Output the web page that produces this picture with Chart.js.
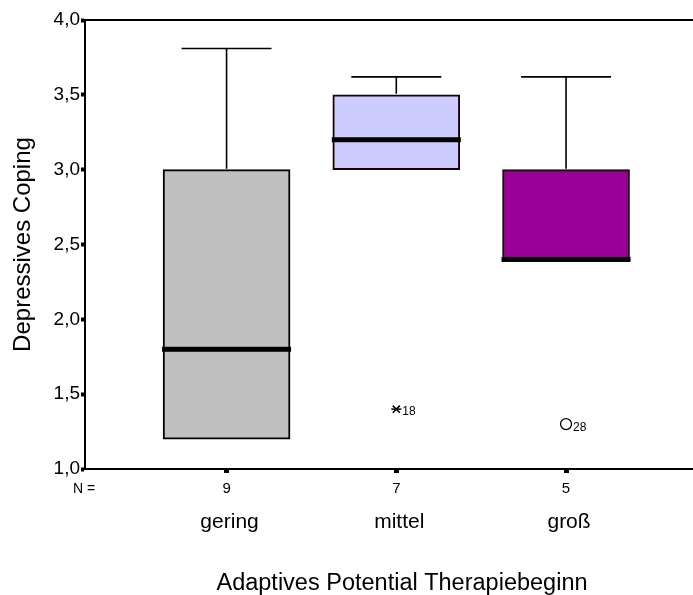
<!DOCTYPE html>
<html><head><meta charset="utf-8">
<script src="https://cdn.jsdelivr.net/npm/chart.js@4/dist/chart.umd.min.js"></script>
<style>html,body{margin:0;padding:0;background:#fff;overflow:hidden}canvas{display:block}</style>
</head><body><canvas id="c" width="693" height="595"></canvas>
<script>
// ---- data ----
const categories = ['gering', 'mittel', 'groß'];
const counts = ['9', '7', '5'];
const whiskerLow = [1.2, 3.0, 2.4];
const q1 = [1.2, 3.0, 2.4];
const medians = [1.8, 3.2, 2.4];
const q3 = [3.0, 3.5, 3.0];
const whiskerHigh = [3.81, 3.62, 3.62];
const extremeCats = [2];
const extremeValues = [1.4];
const extremeLabels = ['18'];
const outlierCats = [3];
const outlierValues = [1.3];
const outlierLabels = ['28'];
const yTitle = 'Depressives Coping';
const xTitle = 'Adaptives Potential Therapiebeginn';
const nLabel = 'N =';

// ---- styles ----
const boxColors = ['#c0c0c0', '#ccccff', '#990099'];
const boxBorders = ['#000000', '#1a0000', '#1a0000'];
const FONT = "'Liberation Sans', Arial, sans-serif";

const catX = categories.map((c, i) => i + 1);

const boxplotPlugin = {
  id: 'boxplot',
  afterDatasetsDraw(chart) {
    const { ctx, scales: { y } } = chart;
    const meta = chart.getDatasetMeta(0);
    ctx.save();
    meta.data.forEach((bar, i) => {
      const cx = bar.x, half = bar.width / 2;
      const capHalf = 45;
      ctx.strokeStyle = '#000';
      ctx.lineWidth = 1.6;
      const yq3 = y.getPixelForValue(q3[i]);
      const yhi = y.getPixelForValue(whiskerHigh[i]);
      if (whiskerHigh[i] > q3[i]) {
        ctx.beginPath();
        ctx.moveTo(cx, yq3 - 1); ctx.lineTo(cx, yhi);
        ctx.moveTo(cx - capHalf, yhi); ctx.lineTo(cx + capHalf, yhi);
        ctx.stroke();
      }
      const yq1 = y.getPixelForValue(q1[i]);
      const ylo = y.getPixelForValue(whiskerLow[i]);
      if (whiskerLow[i] < q1[i]) {
        ctx.beginPath();
        ctx.moveTo(cx, yq1 + 1); ctx.lineTo(cx, ylo);
        ctx.moveTo(cx - capHalf, ylo); ctx.lineTo(cx + capHalf, ylo);
        ctx.stroke();
      }
      const ym = y.getPixelForValue(medians[i]);
      ctx.fillStyle = '#000';
      ctx.fillRect(cx - half - 1, ym - 2.5, 2 * half + 2, 5);
    });
    ctx.restore();
  },
  afterDraw(chart) {
    const { ctx, chartArea, scales: { x } } = chart;
    ctx.save();
    ctx.strokeStyle = '#000';
    ctx.lineWidth = 2;
    ctx.beginPath();
    ctx.moveTo(chartArea.left - 1, chartArea.top);
    ctx.lineTo(chartArea.right, chartArea.top);
    ctx.stroke();
    ctx.fillStyle = '#000';
    ctx.textAlign = 'center';
    ctx.textBaseline = 'alphabetic';
    ctx.font = '14px ' + FONT;
    ctx.fillText(nLabel, chartArea.left - 1, 493);
    ctx.font = '21px ' + FONT;
    categories.forEach((c, i) => {
      ctx.fillText(c, x.getPixelForValue(catX[i]) + 3, 528);
    });
    ctx.font = '23.5px ' + FONT;
    ctx.fillText(xTitle, 402, 590);
    ctx.font = '12px ' + FONT;
    ctx.textAlign = 'left';
    ctx.textBaseline = 'middle';
    const m1 = chart.getDatasetMeta(1);
    m1.data.forEach((p, i) => ctx.fillText(extremeLabels[i], p.x + 6, p.y + 3));
    const m3 = chart.getDatasetMeta(3);
    m3.data.forEach((p, i) => ctx.fillText(outlierLabels[i], p.x + 7, p.y + 4));
    ctx.restore();
  }
};

new Chart(document.getElementById('c'), {
  type: 'bar',
  data: {
    datasets: [
      {
        type: 'bar',
        data: catX.map((cx, i) => ({ x: cx, y: [q1[i], q3[i]] })),
        backgroundColor: boxColors,
        borderColor: boxBorders,
        borderWidth: 2,
        borderSkipped: false,
        barThickness: 127
      },
      {
        type: 'scatter',
        data: extremeCats.map((c, i) => ({ x: c, y: extremeValues[i] })),
        pointStyle: 'crossRot',
        radius: 5,
        borderColor: '#000',
        borderWidth: 1.5
      },
      {
        type: 'scatter',
        data: extremeCats.map((c, i) => ({ x: c, y: extremeValues[i] })),
        pointStyle: 'line',
        radius: 5,
        borderColor: '#000',
        borderWidth: 1.5
      },
      {
        type: 'scatter',
        data: outlierCats.map((c, i) => ({ x: c, y: outlierValues[i] })),
        pointStyle: 'circle',
        radius: 5.5,
        backgroundColor: 'rgba(0,0,0,0)',
        borderColor: '#000',
        borderWidth: 1.3
      }
    ]
  },
  options: {
    responsive: false,
    animation: false,
    layout: { autoPadding: false, padding: { top: 20, right: 0, bottom: 0, left: 0 } },
    plugins: { legend: { display: false }, tooltip: { enabled: false } },
    scales: {
      x: {
        type: 'linear',
        offset: false,
        min: 0.166,
        max: 3.748,
        afterBuildTicks: (s) => { s.ticks = catX.map(v => ({ value: v })); },
        afterFit: (s) => { s.height = 126; s.paddingLeft = 0; s.paddingRight = 0; },
        ticks: {
          callback: (v, i) => counts[i],
          font: { size: 15, family: FONT },
          color: '#000',
          padding: 7,
          maxRotation: 0
        },
        grid: { offset: false, drawOnChartArea: false, drawTicks: true, tickLength: 4, tickWidth: 5, tickColor: '#000' },
        border: { display: true, color: '#000', width: 2 }
      },
      y: {
        min: 1,
        max: 4,
        afterFit: (s) => { s.width = 85; },
        ticks: {
          stepSize: 0.5,
          callback: (v) => v.toFixed(1).replace('.', ','),
          font: { size: 19, family: FONT },
          color: '#000',
          padding: 1
        },
        grid: { drawOnChartArea: false, drawTicks: true, tickLength: 4, tickWidth: 4, tickColor: '#000' },
        border: { display: true, color: '#000', width: 2 },
        title: {
          display: true,
          text: yTitle,
          font: { size: 24, family: FONT },
          color: '#000',
          padding: { top: 9, bottom: 0 }
        }
      }
    }
  },
  plugins: [boxplotPlugin]
});
</script>
</body></html>
